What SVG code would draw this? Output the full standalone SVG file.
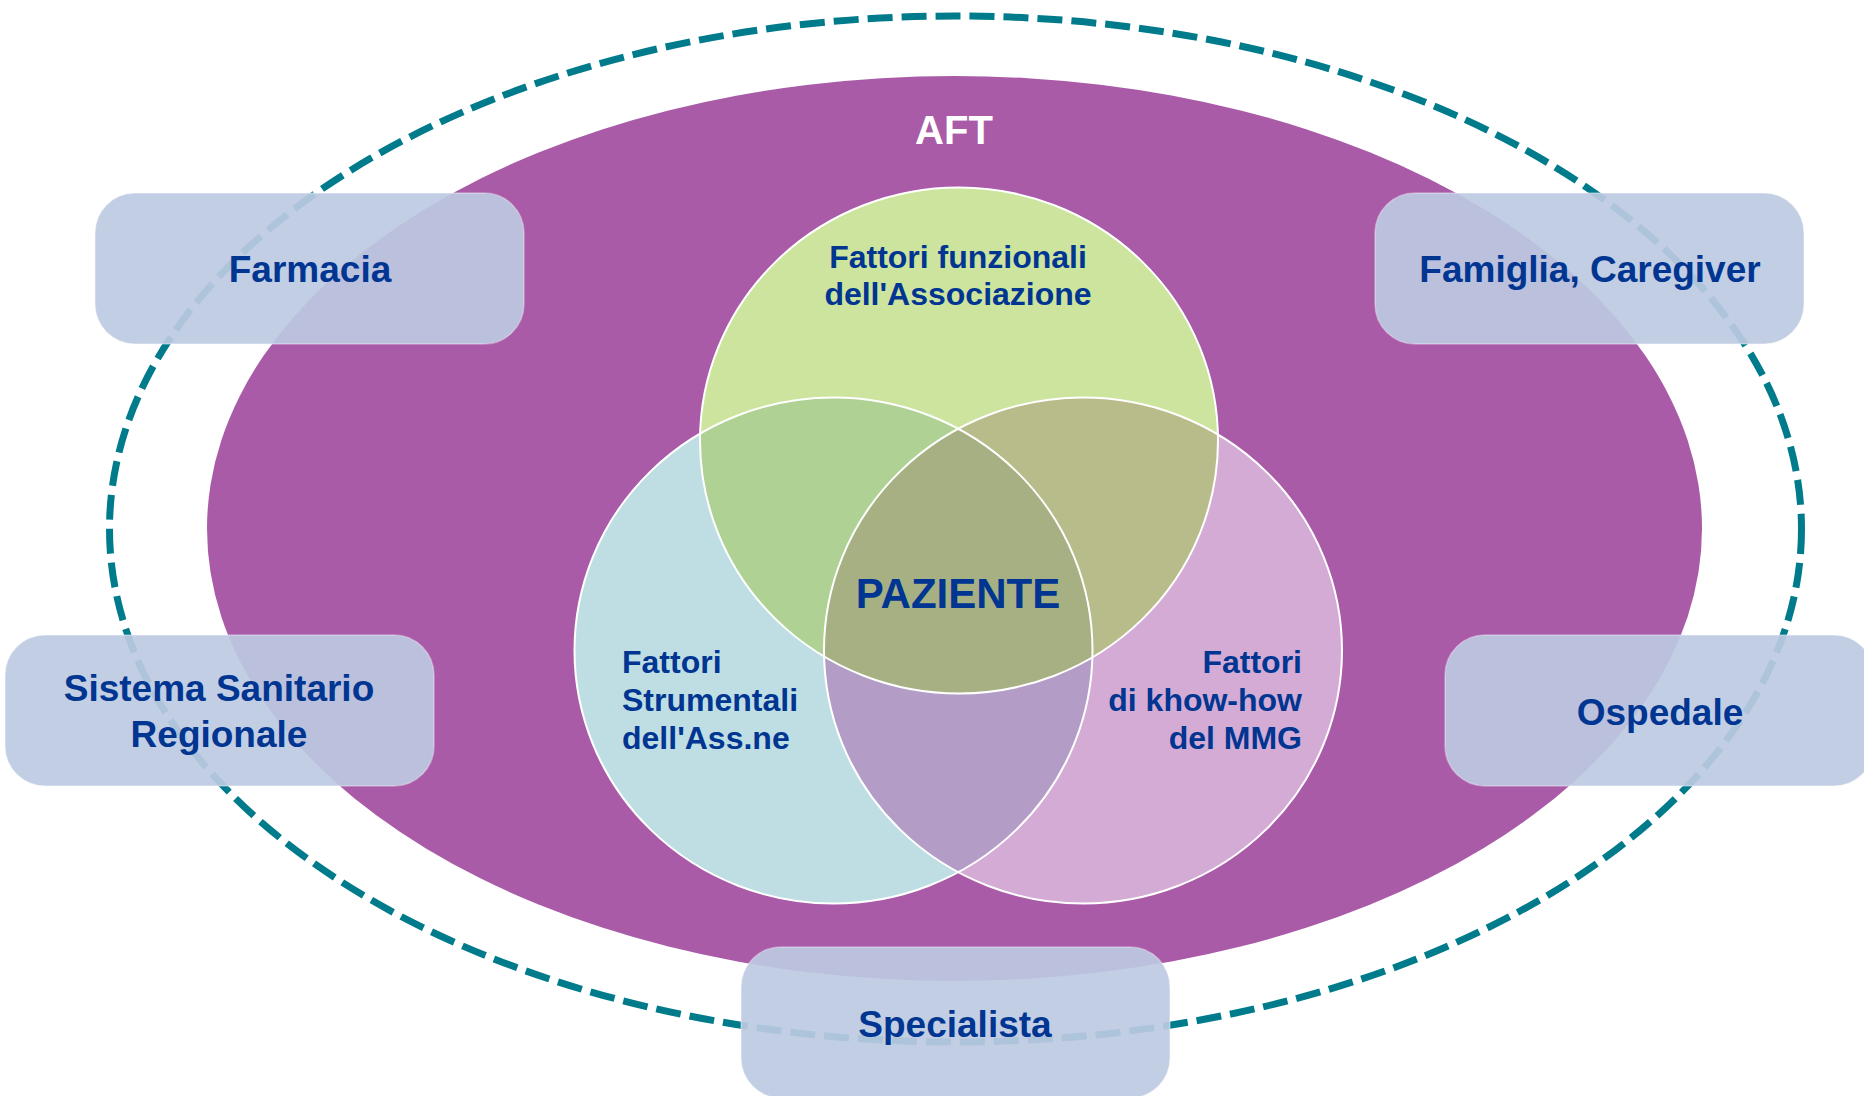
<svg xmlns="http://www.w3.org/2000/svg" width="1864" height="1096" viewBox="0 0 1864 1096">
  <style>
    .lbl { font-family: "Liberation Sans", Arial, sans-serif; font-weight: bold; fill: #003591; }
    .box { fill: #BDCAE2; fill-opacity: 0.92; stroke: #FFFFFF; stroke-opacity: 0.35; stroke-width: 1.5; }
    .ring { stroke: #FFFFFF; stroke-width: 2; fill: none; }
  </style>
  <defs>
    <clipPath id="clipTop"><ellipse cx="959" cy="440.5" rx="259" ry="253"/></clipPath>
    <clipPath id="clipLeft"><ellipse cx="833.5" cy="650.5" rx="259" ry="253"/></clipPath>
  </defs>

  <rect x="0" y="0" width="1864" height="1096" fill="#FFFFFF"/>

  <!-- outer network boundary -->
  <g id="network-boundary">
    <ellipse cx="955.5" cy="529" rx="846" ry="513" fill="none" stroke="#007B8C" stroke-width="7" stroke-dasharray="25 9"/>
  </g>

  <!-- AFT area -->
  <g id="aft">
    <ellipse cx="954.5" cy="528.5" rx="747.5" ry="452.5" fill="#A95BA8"/>
    <text x="954" y="144" text-anchor="middle" font-family="Liberation Sans, Arial, sans-serif" font-weight="bold" font-size="40" fill="#FFFFFF">AFT</text>
  </g>

  <!-- three-set Venn around the patient -->
  <g id="venn">
    <ellipse cx="833.5" cy="650.5" rx="259" ry="253" fill="#BFDEE3"/>
    <ellipse cx="1083" cy="650.5" rx="259" ry="253" fill="#D4ABD4"/>
    <ellipse cx="959" cy="440.5" rx="259" ry="253" fill="#CDE49E"/>
    <ellipse cx="1083" cy="650.5" rx="259" ry="253" fill="#B39DC6" clip-path="url(#clipLeft)"/>
    <ellipse cx="833.5" cy="650.5" rx="259" ry="253" fill="#AFD294" clip-path="url(#clipTop)"/>
    <ellipse cx="1083" cy="650.5" rx="259" ry="253" fill="#B8BB8A" clip-path="url(#clipTop)"/>
    <g clip-path="url(#clipTop)">
      <ellipse cx="1083" cy="650.5" rx="259" ry="253" fill="#A6B082" clip-path="url(#clipLeft)"/>
    </g>
    <ellipse class="ring" cx="833.5" cy="650.5" rx="259" ry="253"/>
    <ellipse class="ring" cx="1083" cy="650.5" rx="259" ry="253"/>
    <ellipse class="ring" cx="959" cy="440.5" rx="259" ry="253"/>
  </g>

  <g id="fattori-funzionali">
    <text class="lbl" font-size="32" text-anchor="middle"><tspan x="958" y="268">Fattori funzionali</tspan><tspan x="958" y="305">dell'Associazione</tspan></text>
  </g>
  <g id="fattori-strumentali">
    <text class="lbl" font-size="32"><tspan x="622" y="673">Fattori</tspan><tspan x="622" y="711">Strumentali</tspan><tspan x="622" y="749">dell'Ass.ne</tspan></text>
  </g>
  <g id="fattori-knowhow">
    <text class="lbl" font-size="32" text-anchor="end"><tspan x="1302" y="673">Fattori</tspan><tspan x="1302" y="711">di khow-how</tspan><tspan x="1302" y="749">del MMG</tspan></text>
  </g>
  <g id="paziente">
    <text class="lbl" font-size="42" text-anchor="middle" x="958" y="608">PAZIENTE</text>
  </g>

  <!-- surrounding actors -->
  <g id="farmacia">
    <rect class="box" x="95" y="193" width="429" height="151" rx="40" ry="40"/>
    <text class="lbl" font-size="37" text-anchor="middle" x="310" y="282">Farmacia</text>
  </g>
  <g id="famiglia">
    <rect class="box" x="1375" y="193" width="429" height="151" rx="40" ry="40"/>
    <text class="lbl" font-size="37" text-anchor="middle" x="1590" y="282">Famiglia, Caregiver</text>
  </g>
  <g id="ssr">
    <rect class="box" x="5" y="635" width="429" height="151" rx="40" ry="40"/>
    <text class="lbl" font-size="37" text-anchor="middle"><tspan x="219" y="701">Sistema Sanitario</tspan><tspan x="219" y="747">Regionale</tspan></text>
  </g>
  <g id="ospedale">
    <rect class="box" x="1445" y="635" width="429" height="151" rx="40" ry="40"/>
    <text class="lbl" font-size="37" text-anchor="middle" x="1660" y="725">Ospedale</text>
  </g>
  <g id="specialista">
    <rect class="box" x="741" y="947" width="429" height="151" rx="40" ry="40"/>
    <text class="lbl" font-size="37" text-anchor="middle" x="955" y="1037">Specialista</text>
  </g>
</svg>
